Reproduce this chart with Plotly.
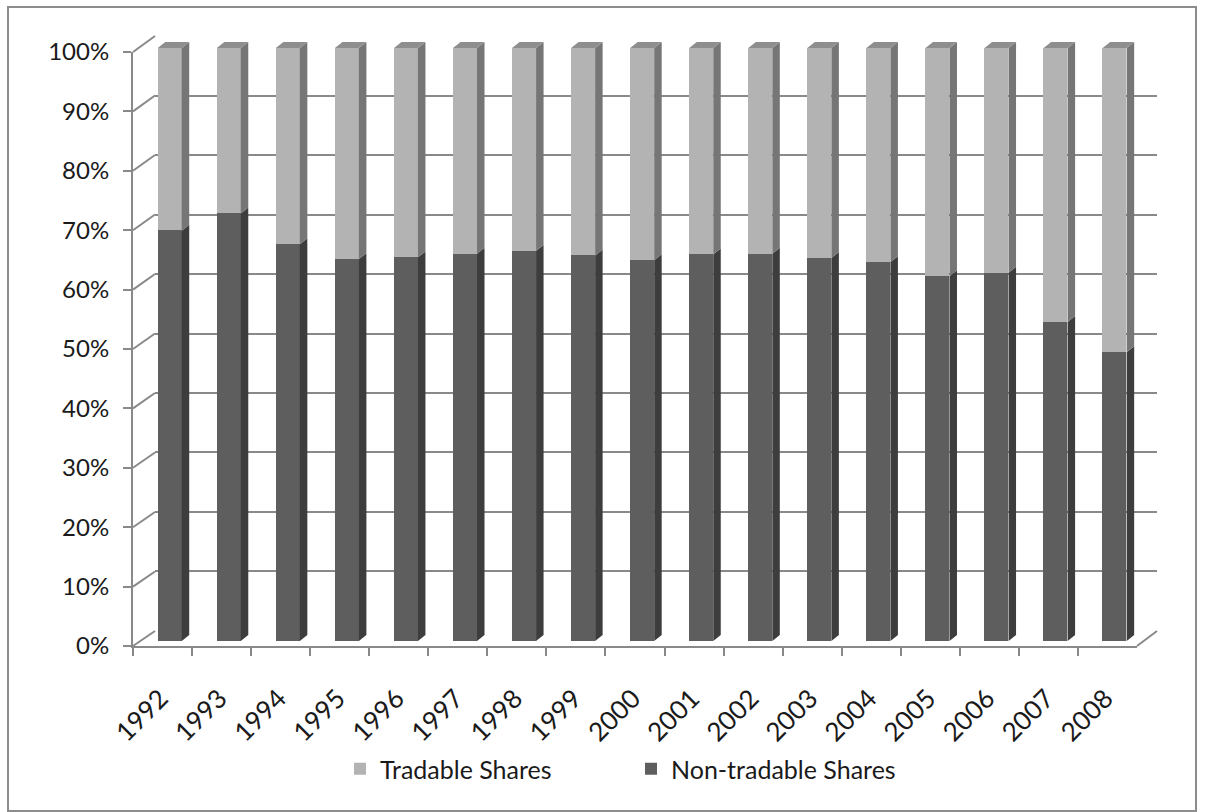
import plotly.graph_objects as go

years = ["1992", "1993", "1994", "1995", "1996", "1997", "1998", "1999", "2000",
         "2001", "2002", "2003", "2004", "2005", "2006", "2007", "2008"]
non_tradable = [69.2, 72.1, 66.9, 64.4, 64.7, 65.3, 65.8, 65.0, 64.2,
                65.2, 65.3, 64.6, 63.9, 61.5, 62.1, 53.8, 48.7]
tradable = [30.8, 27.9, 33.1, 35.6, 35.3, 34.7, 34.2, 35.0, 35.8,
            34.8, 34.7, 35.4, 36.1, 38.5, 37.9, 46.2, 51.3]
y_ticks = list(range(0, 101, 10))

W, H = 1205, 812
FONT = "Lato"
TXT = "#1a1a1a"
DARK, DARK_SIDE = "#5e5e5e", "#3d3d3d"
LIGHT, LIGHT_SIDE, TOP = "#b3b3b3", "#767676", "#8e8e8e"
GRID = "#898989"

def px_x(a, b):
    return [a / W, b / W]

def px_y(bottom, top):
    return [(H - bottom) / H, (H - top) / H]

# geometry (pixels)
back_x, back_y = (155, 1157), (631, 36)
front_x, front_y = (133, 1137), (646, 52)
bar_x = (140.2, 1144.2)
bar_zero, bar_unit = 641.0, 5.93          # px per percent
bar_top_pct = 103.0
bar_width = 0.406
dx_cat, dy_pct = 0.127, 1.0               # 3D depth of bars

fig = go.Figure()

fig.add_trace(go.Bar(x=years, y=non_tradable, name="Non-tradable Shares",
                     marker=dict(color=DARK, line=dict(width=0)),
                     width=bar_width, xaxis="x2", yaxis="y2"))
fig.add_trace(go.Bar(x=years, y=tradable, name="Tradable Shares",
                     marker=dict(color=LIGHT, line=dict(width=0)),
                     width=bar_width, xaxis="x2", yaxis="y2"))

fig.add_trace(go.Scatter(x=[0], y=[0], xaxis="x", yaxis="y", mode="markers",
                         marker=dict(opacity=0), showlegend=False, hoverinfo="skip"))
fig.add_trace(go.Scatter(x=years, y=[0] * len(years), xaxis="x3", yaxis="y3",
                         mode="markers", marker=dict(opacity=0),
                         showlegend=False, hoverinfo="skip"))

shapes = []
for i, (v, t) in enumerate(zip(non_tradable, tradable)):
    l = i - bar_width / 2
    r = i + bar_width / 2
    total = v + t
    for y0, y1, col in [(0, v, DARK_SIDE), (v, total, LIGHT_SIDE)]:
        path = (f"M {r},{y0} L {r + dx_cat},{y0 + dy_pct} "
                f"L {r + dx_cat},{y1 + dy_pct} L {r},{y1} Z")
        shapes.append(dict(type="path", path=path, xref="x2", yref="y2",
                           fillcolor=col, line=dict(width=0), layer="above"))
    path = (f"M {l},{total} L {l + dx_cat},{total + dy_pct} "
            f"L {r + dx_cat},{total + dy_pct} L {r},{total} Z")
    shapes.append(dict(type="path", path=path, xref="x2", yref="y2",
                       fillcolor=TOP, line=dict(width=0), layer="above"))

for t in y_ticks:
    fy = front_y[0] - (front_y[0] - front_y[1]) * t / 100
    by = back_y[0] - (back_y[0] - back_y[1]) * t / 100
    shapes.append(dict(type="line", xref="paper", yref="paper",
                       x0=front_x[0] / W, y0=(H - fy) / H,
                       x1=back_x[0] / W, y1=(H - by) / H,
                       line=dict(color=GRID, width=2), layer="below"))
shapes.append(dict(type="line", xref="paper", yref="paper",
                   x0=front_x[1] / W, y0=(H - front_y[0]) / H,
                   x1=back_x[1] / W, y1=(H - back_y[0]) / H,
                   line=dict(color=GRID, width=2), layer="below"))
shapes.append(dict(type="rect", xref="paper", yref="paper",
                   x0=8 / W, y0=(H - 811) / H, x1=1196 / W, y1=(H - 7) / H,
                   line=dict(color="#8c8c8c", width=2), fillcolor="rgba(0,0,0,0)",
                   layer="below"))

fig.update_layout(
    width=W, height=H,
    margin=dict(l=0, r=0, t=0, b=0, autoexpand=False),
    paper_bgcolor="white", plot_bgcolor="rgba(0,0,0,0)",
    barmode="stack", bargap=0,
    font=dict(family=FONT, size=24, color=TXT),
    showlegend=True,
    legend=dict(orientation="h", x=340 / W, xanchor="left",
                y=(H - 769) / H, yanchor="middle",
                traceorder="reversed", font=dict(size=25, color=TXT),
                entrywidth=246, entrywidthmode="pixels",
                bgcolor="rgba(0,0,0,0)"),
    shapes=shapes,
    xaxis=dict(domain=px_x(*back_x), range=[0, 1], visible=False,
               fixedrange=True, automargin=False),
    yaxis=dict(domain=px_y(*back_y), range=[-0.05, 100.05], anchor="x",
               showgrid=True, gridcolor=GRID, gridwidth=2, tickvals=y_ticks,
               showticklabels=False, zeroline=False, showline=False, ticks="",
               automargin=False),
    xaxis2=dict(domain=px_x(*bar_x), range=[-0.5, 16.5], type="category",
                anchor="y2", visible=False, fixedrange=True, automargin=False),
    yaxis2=dict(domain=px_y(bar_zero, bar_zero - bar_unit * bar_top_pct),
                range=[0, bar_top_pct], anchor="x2", visible=False,
                automargin=False),
    xaxis3=dict(domain=px_x(*front_x), range=[-0.5, 16.5], type="category",
                anchor="y3", showline=True, linecolor=GRID, linewidth=2,
                ticks="outside", tickson="boundaries", ticklen=8,
                tickcolor=GRID, tickwidth=2, tickangle=-45,
                ticklabelstandoff=25, ticklabelshift=-2,
                showgrid=False, zeroline=False,
                automargin=False, tickfont=dict(size=26, color=TXT)),
    yaxis3=dict(domain=px_y(*front_y), range=[0, 100], anchor="x3",
                showline=True, linecolor=GRID, linewidth=2,
                ticks="outside", ticklen=8, tickcolor=GRID, tickwidth=2,
                tickvals=y_ticks, ticktext=[f"{v}%" for v in y_ticks],
                showgrid=False, zeroline=False, ticklabelstandoff=9,
                automargin=False, tickfont=dict(size=24, color=TXT)),
)

fig.write_html("out.html")
